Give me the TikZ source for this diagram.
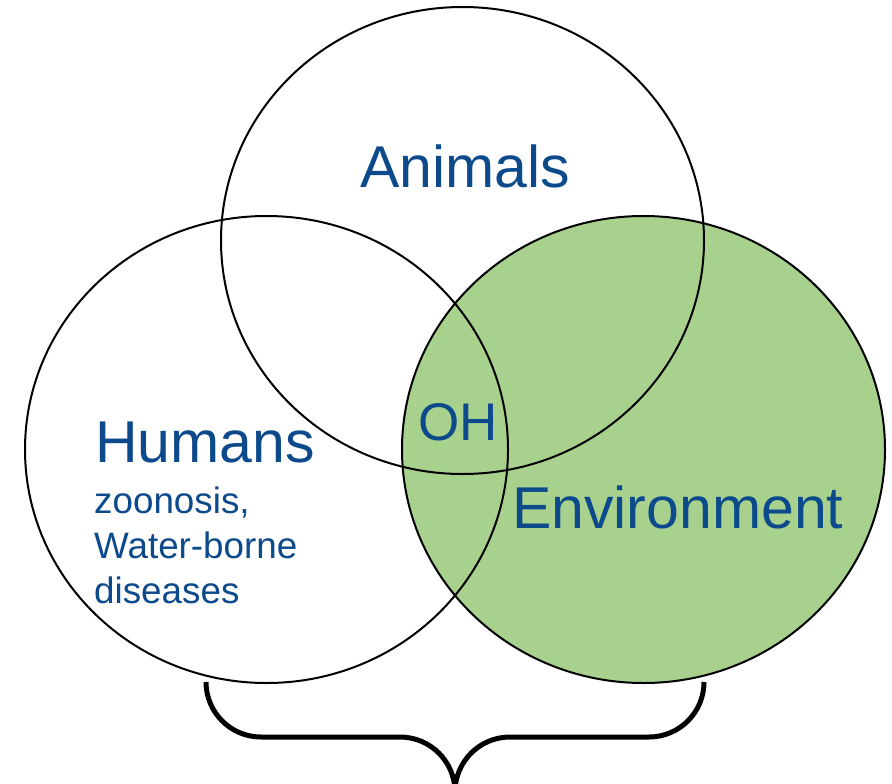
\documentclass[tikz,border=0pt]{standalone}
\usepackage{fontspec}
\setmainfont{Liberation Sans}
\usetikzlibrary{shapes.geometric}
\definecolor{envgreen}{HTML}{A9D18E}
\definecolor{txtblue}{RGB}{12,74,140}
\begin{document}
\begin{tikzpicture}[x=1pt,y=-1pt,
  venn/.style={draw=black, line width=2pt, ellipse, inner sep=0pt, minimum width=483pt, minimum height=467pt},
  big/.style={text=txtblue, inner sep=0pt, font=\fontsize{59}{59}\selectfont},
  mid/.style={text=txtblue, inner sep=0pt, font=\fontsize{53}{53}\selectfont},
  small/.style={text=txtblue, inner sep=0pt, font=\fontsize{36.8}{45}\selectfont, align=left},
  bracestyle/.style={draw=black, line width=5pt}]
\useasboundingbox (0,0) rectangle (892,784);
\node[venn, fill=envgreen] (env) at (643.5,449.5) {};
\node[venn] (hum) at (266.5,449.5) {};
\node[venn] (ani) at (462.5,240.5) {};
\node[big, anchor=base] (tani) at (465,187) {Animals};
\node[big, anchor=base west] (thum) at (95,462) {Humans};
\node[big, anchor=base west] (tenv) at (512,528) {Environment};
\node[mid, anchor=base west] (toh) at (418,440) {OH};
\node[small, anchor=base west] (t1) at (94,513) {zoonosis,};
\node[small, anchor=base west] (t2) at (94,558) {Water-borne};
\node[small, anchor=base west] (t3) at (94,603) {diseases};
\coordinate (bl) at (206,682);
\coordinate (br) at (704,682);
\draw[bracestyle] (bl) arc[start angle=180, end angle=270, radius=55pt]
  -- (400,737) arc[start angle=90, end angle=0, radius=55pt]
  arc[start angle=180, end angle=90, radius=55pt]
  -- (649,737) arc[start angle=270, end angle=360, radius=55pt];
\end{tikzpicture}
\end{document}
